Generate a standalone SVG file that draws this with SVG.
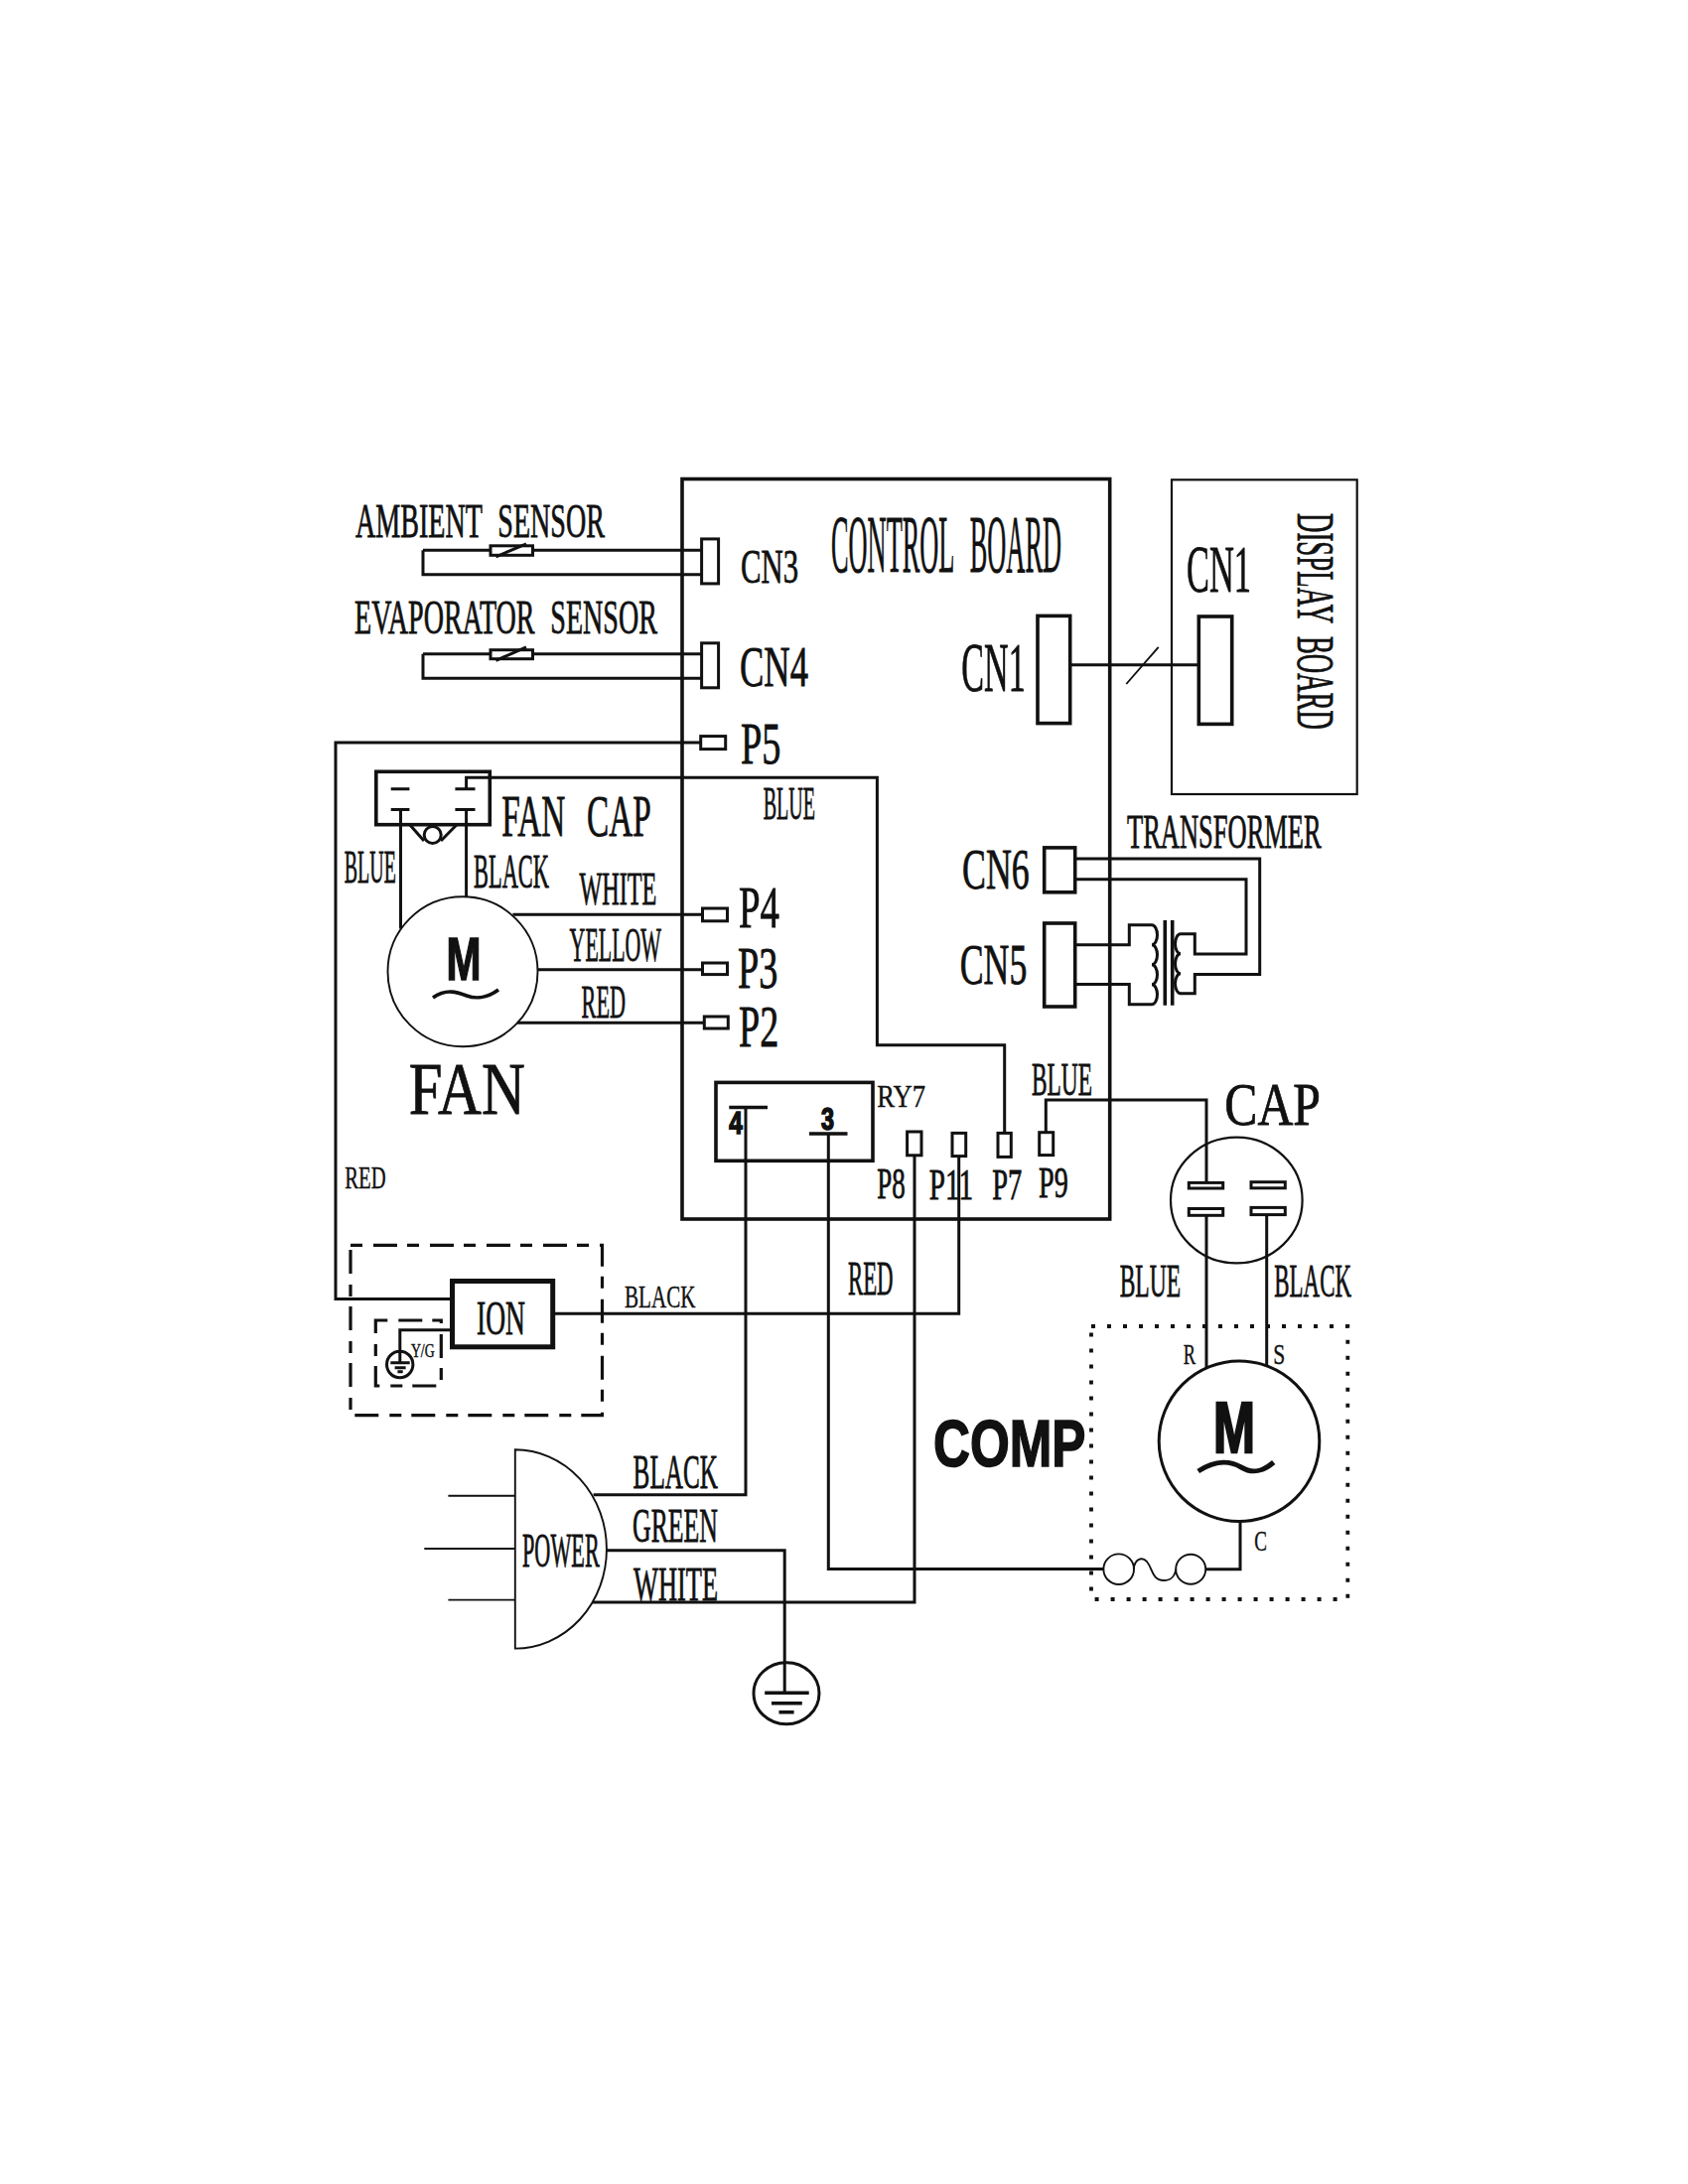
<svg xmlns="http://www.w3.org/2000/svg" width="1700" height="2200" viewBox="0 0 1700 2200">
<style>
text{font-family:"Liberation Serif","Times New Roman",serif;fill:#111;stroke:#111;stroke-width:.8}
.sb{font-family:"Liberation Sans",Arial,sans-serif;font-weight:bold;stroke-width:1.6}
.sm{stroke-width:.4}
.w,.box,.thin,.thick,.mid{fill:none;stroke:#111;stroke-linejoin:miter}
.w{stroke-width:3}
.box{stroke-width:3.6}
.thin{stroke-width:1.9}
.mid{stroke-width:2.2}
.core{fill:none;stroke:#111;stroke-width:3.6}
.thick{stroke-width:5}
.dash{fill:none;stroke:#111;stroke-width:3.2;stroke-dasharray:12 11 24 10}
.dots{fill:none;stroke:#111;stroke-width:3.8;stroke-dasharray:4 12}
.pin{fill:#fff;stroke:#111;stroke-width:3}
.heavy{stroke-width:2.5}
</style>
<rect width="1700" height="2200" fill="#fff"/>
<g id="connectors">
<path class="w" d="M426 554.3H707M426 554.3V578.8H707"/>
<path class="w" d="M426 658.8H707M426 658.8V683.3H707"/>
<path class="w" d="M706 748H338V1308.4H455.5"/>
<path class="w" d="M469.6 794.7V783.3H883.4V1052.7H1011.7V1141.4"/>
<path class="w" d="M403.5 815.5V935.5M469.6 815.5V903"/>
<path class="w" d="M516.4 921.2H707.5M541.9 976.7H707.5M521 1030.2H709.3"/>
<path class="w" d="M751 1115.5V1505.8H597.6"/>
<path class="w" d="M834.3 1142V1580.5H1111.7"/>
<path class="w" d="M921 1164V1614H596.7"/>
<path class="w" d="M965.7 1164.6V1323.2H556.7"/>
<path class="w" d="M1053.3 1140.7V1107.9H1215V1191.4"/>
<path class="w" d="M1215 1224V1378M1275.7 1223.6V1376.4"/>
<path class="w" d="M1214 1580.7H1249V1532"/>
<path class="w" d="M610.6 1561.7H790.2V1705.3"/>
<path class="w" d="M1077.7 669.8H1207.3"/>
<path class="thin" d="M1134.3 689L1166.7 651.8"/>
<path class="w" d="M1082.7 865H1268.7V981.5H1203.3V1000.8H1189M1082.7 885.7H1255V961H1203.3V940.8H1189"/>
<path class="w" d="M1082.7 951.8H1137.3V931.8H1160M1082.7 991.4H1137.3V1011.8H1160"/>
<path class="w" d="M455.5 1339.7H402.8V1372.7"/>
</g>
<g id="control-board">
<rect class="box" x="687" y="482.5" width="430.7" height="745.5"/>
<text x="837" y="576" font-size="82" word-spacing="30" textLength="232" lengthAdjust="spacingAndGlyphs">CONTROL BOARD</text>
</g>
<g id="cn3"><rect class="pin" x="706.6" y="542.9" width="17" height="45"/><text x="746" y="586.5" font-size="49" textLength="58" lengthAdjust="spacingAndGlyphs">CN3</text></g>
<g id="cn4"><rect class="pin" x="706.6" y="647.8" width="17" height="45"/><text x="745" y="690.6" font-size="57" textLength="69" lengthAdjust="spacingAndGlyphs">CN4</text></g>
<g id="ambient-sensor">
<text x="358" y="541" font-size="48" word-spacing="15" textLength="251" lengthAdjust="spacingAndGlyphs">AMBIENT SENSOR</text>
<rect class="pin" x="494" y="549.8" width="42.5" height="9.5"/><path class="w" d="M499.5 560.8L530 547.8"/>
</g>
<g id="evaporator-sensor">
<text x="357" y="637.5" font-size="48" word-spacing="15" textLength="305" lengthAdjust="spacingAndGlyphs">EVAPORATOR SENSOR</text>
<rect class="pin" x="494" y="654.7" width="42.5" height="9"/><path class="w" d="M499.5 665.3L530 651.8"/>
</g>
<g id="p5"><rect class="pin" x="705.7" y="741.6" width="25" height="13"/><text x="746" y="769" font-size="59" textLength="40.5" lengthAdjust="spacingAndGlyphs">P5</text></g>
<g id="p4"><rect class="pin" x="707.5" y="915" width="25" height="12.8"/><text x="744" y="934.3" font-size="60" textLength="41" lengthAdjust="spacingAndGlyphs">P4</text></g>
<g id="p3"><rect class="pin" x="707.5" y="970" width="25" height="11.6"/><text x="743" y="994.7" font-size="59" textLength="40.4" lengthAdjust="spacingAndGlyphs">P3</text></g>
<g id="p2"><rect class="pin" x="709.3" y="1024" width="24" height="12"/><text x="744" y="1054" font-size="59" textLength="40.3" lengthAdjust="spacingAndGlyphs">P2</text></g>
<g id="fan-cap">
<rect class="box" x="378.8" y="777.3" width="114.5" height="53.4"/>
<path class="w" d="M393.7 794.7H412.4M458.4 794.7H478.5M393.7 815.5H412.4M458.4 815.5H478.5"/>
<path class="w" d="M412.7 830.7L427 847M460 830.7L444 847"/>
<circle class="w" cx="435.7" cy="841" r="8.5" fill="#fff"/>
<text x="505.3" y="841.6" font-size="60" word-spacing="24" textLength="150.4" lengthAdjust="spacingAndGlyphs">FAN CAP</text>
</g>
<g id="fan-motor">
<circle class="thin" cx="466" cy="978.8" r="75.5" fill="#fff"/>
<text class="sb" x="449.5" y="987.3" font-size="61" textLength="35" lengthAdjust="spacingAndGlyphs">M</text>
<path class="box" d="M436 1005C450 995 462 1000 470 1003S490 1006 502 997"/>
<text x="411.8" y="1122" font-size="74" textLength="117" lengthAdjust="spacingAndGlyphs">FAN</text>
</g>
<g id="wire-labels-fan">
<text x="346.8" y="888.6" font-size="46" textLength="52" lengthAdjust="spacingAndGlyphs">BLUE</text>
<text x="477" y="893.5" font-size="48" textLength="76" lengthAdjust="spacingAndGlyphs">BLACK</text>
<text x="583.4" y="911" font-size="47" textLength="78" lengthAdjust="spacingAndGlyphs">WHITE</text>
<text x="573.6" y="968" font-size="49" textLength="92.4" lengthAdjust="spacingAndGlyphs">YELLOW</text>
<text x="585.6" y="1025.3" font-size="47" textLength="44.4" lengthAdjust="spacingAndGlyphs">RED</text>
<text x="768.7" y="825.3" font-size="47" textLength="52.3" lengthAdjust="spacingAndGlyphs">BLUE</text>
<text class="sm" x="347.3" y="1196.6" font-size="31" textLength="41.3" lengthAdjust="spacingAndGlyphs">RED</text>
</g>
<g id="ry7">
<rect class="box" x="721" y="1090.4" width="158" height="78.9"/>
<text class="sm" x="883.3" y="1115" font-size="32" textLength="48.7" lengthAdjust="spacingAndGlyphs">RY7</text>
<path class="box" d="M734.3 1115.5H773M815 1142H853.5"/>
<text class="sb" x="734.3" y="1141.5" font-size="31" textLength="13.5" lengthAdjust="spacingAndGlyphs">4</text>
<text class="sb" x="827" y="1138" font-size="31" textLength="13" lengthAdjust="spacingAndGlyphs">3</text>
</g>
<g id="p8"><rect class="pin" x="913.6" y="1140" width="14.4" height="23.8"/><text x="883.3" y="1207.4" font-size="45" textLength="28.5" lengthAdjust="spacingAndGlyphs">P8</text></g>
<g id="p11"><rect class="pin" x="959" y="1141.4" width="13.7" height="23.2"/><text x="935.7" y="1208" font-size="45" textLength="44.3" lengthAdjust="spacingAndGlyphs">P11</text></g>
<g id="p7"><rect class="pin" x="1005" y="1141.4" width="13.3" height="24"/><text x="999.3" y="1208" font-size="45" textLength="30" lengthAdjust="spacingAndGlyphs">P7</text></g>
<g id="p9"><rect class="pin" x="1046.7" y="1140.7" width="14" height="22.9"/><text x="1046" y="1206.4" font-size="45" textLength="29.7" lengthAdjust="spacingAndGlyphs">P9</text></g>
<text id="label-blue-p9" x="1039" y="1102.9" font-size="47" textLength="61" lengthAdjust="spacingAndGlyphs">BLUE</text>
<g id="cn1-board"><rect class="box" x="1045" y="620.4" width="32.7" height="108.2"/><text x="968.3" y="695.5" font-size="70" textLength="64.4" lengthAdjust="spacingAndGlyphs">CN1</text></g>
<g id="display-board">
<rect class="mid" x="1180" y="483.3" width="186.7" height="316.7"/>
<rect class="box" x="1207.3" y="621" width="33.4" height="108.4"/>
<text x="1195" y="596" font-size="68" textLength="65" lengthAdjust="spacingAndGlyphs">CN1</text>
<text transform="translate(1306.7 517) rotate(90)" font-size="53" word-spacing="14" textLength="218" lengthAdjust="spacingAndGlyphs">DISPLAY BOARD</text>
</g>
<g id="cn6"><rect class="box" x="1051.7" y="853.9" width="31" height="44.9"/><text x="969" y="894.7" font-size="56" textLength="67.7" lengthAdjust="spacingAndGlyphs">CN6</text></g>
<g id="cn5"><rect class="box" x="1051.7" y="930" width="31" height="84"/><text x="966.7" y="990.6" font-size="56" textLength="67.6" lengthAdjust="spacingAndGlyphs">CN5</text></g>
<g id="transformer">
<text x="1135" y="853.9" font-size="48" textLength="195.7" lengthAdjust="spacingAndGlyphs">TRANSFORMER</text>
<path class="w" d="M1160 931.8a5.5 10 0 0 1 0 20a5.5 10 0 0 1 0 20a5.5 10 0 0 1 0 20a5.5 10 0 0 1 0 20"/>
<path class="core" d="M1173.3 927V1012.7M1180.7 927V1012.7"/>
<path class="w" d="M1189 940.8a5.5 10 0 0 0 0 20a5.5 10 0 0 0 0 20a5.5 10 0 0 0 0 20"/>
</g>
<g id="ion-module">
<rect class="dash" x="353" y="1254.3" width="253.5" height="171.3"/>
<rect class="dash" x="378.3" y="1330" width="66" height="66"/>
<rect class="thick" x="455.5" y="1290.5" width="101.2" height="66.3"/>
<text x="480" y="1344" font-size="49" textLength="49" lengthAdjust="spacingAndGlyphs">ION</text>
<circle class="w" cx="402.7" cy="1374.5" r="13.2"/>
<path class="w" d="M393.3 1372.7H412.7M397.6 1377.7H408.6M400.4 1381.7H405.7"/>
<text class="sm" x="413.9" y="1367" font-size="18" textLength="23.7" lengthAdjust="spacingAndGlyphs">Y/G</text>
</g>
<g id="wire-labels-lower">
<text class="sm" x="629" y="1316.7" font-size="32" textLength="71.4" lengthAdjust="spacingAndGlyphs">BLACK</text>
<text x="853.9" y="1304" font-size="48" textLength="45.7" lengthAdjust="spacingAndGlyphs">RED</text>
<text x="637.6" y="1499.3" font-size="48" textLength="85.3" lengthAdjust="spacingAndGlyphs">BLACK</text>
<text x="637" y="1553" font-size="49" textLength="86" lengthAdjust="spacingAndGlyphs">GREEN</text>
<text x="638" y="1611.6" font-size="48" textLength="85" lengthAdjust="spacingAndGlyphs">WHITE</text>
</g>
<g id="power-plug">
<path class="thin" d="M518.8 1460.3A92 100 0 0 1 518.8 1660.6Z" fill="#fff"/>
<path class="thin" d="M451.4 1506.7H518.8M427.3 1560H518.8M451.4 1611.6H518.8"/>
<text x="526" y="1578" font-size="48" textLength="77.7" lengthAdjust="spacingAndGlyphs">POWER</text>
</g>
<g id="ground">
<ellipse class="w" cx="792" cy="1705.7" rx="33" ry="31"/>
<path class="box" d="M770.2 1705.3H814.7M777 1715.7H807.8M784.5 1724.8H799.6"/>
</g>
<g id="cap">
<ellipse class="mid" cx="1245.3" cy="1209" rx="66.3" ry="63.4"/>
<rect class="pin" x="1197.3" y="1191.4" width="34.4" height="5.6"/>
<rect class="pin" x="1260" y="1190.7" width="34.3" height="6.1"/>
<rect class="pin" x="1197.3" y="1217.5" width="34.4" height="6.8"/>
<rect class="pin" x="1260" y="1216.4" width="34.3" height="7.2"/>
<text x="1233.3" y="1133" font-size="61" textLength="96.7" lengthAdjust="spacingAndGlyphs">CAP</text>
<text x="1127.7" y="1306.4" font-size="47" textLength="61.3" lengthAdjust="spacingAndGlyphs">BLUE</text>
<text x="1283.3" y="1305.7" font-size="47" textLength="77.7" lengthAdjust="spacingAndGlyphs">BLACK</text>
</g>
<g id="compressor">
<rect class="dots" x="1099" y="1336" width="258.3" height="275"/>
<circle class="w" cx="1248" cy="1451.7" r="80.8"/>
<text class="sb heavy" x="1222" y="1462.9" font-size="72" textLength="42" lengthAdjust="spacingAndGlyphs">M</text>
<path class="thick" d="M1206.7 1482C1225 1470 1240 1472 1250 1478S1270 1484 1282.7 1473"/>
<text class="sm" x="1191.7" y="1373.6" font-size="30" textLength="12.3" lengthAdjust="spacingAndGlyphs">R</text>
<text class="sm" x="1282.3" y="1373.6" font-size="30" textLength="12" lengthAdjust="spacingAndGlyphs">S</text>
<text class="sm" x="1263.3" y="1561.8" font-size="30" textLength="12.7" lengthAdjust="spacingAndGlyphs">C</text>
<text class="sb" x="940" y="1476.8" font-size="66.7" textLength="153.3" lengthAdjust="spacingAndGlyphs">COMP</text>
<g id="overload">
<circle class="thin" cx="1126.7" cy="1580.7" r="15.3" fill="#fff"/>
<circle class="thin" cx="1199.2" cy="1580.7" r="15" fill="#fff"/>
<path class="thin" d="M1141.7 1580.7C1143 1570 1150 1568 1155 1573C1161 1580 1160 1592 1172 1592C1180 1592 1183 1588 1184.3 1580.7"/>
</g>
</g>
</svg>
